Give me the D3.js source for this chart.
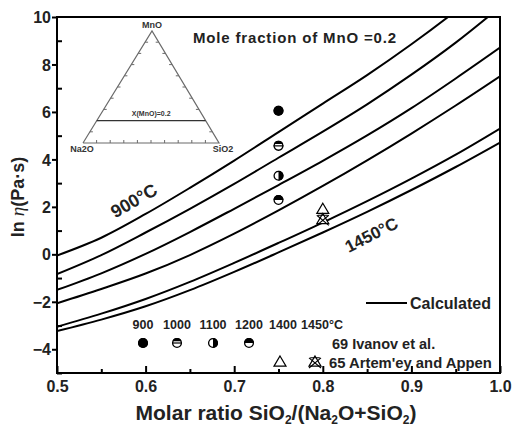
<!DOCTYPE html>
<html>
<head>
<meta charset="utf-8">
<script src="https://cdn.jsdelivr.net/npm/d3@7"></script>
<style>
  html, body { margin: 0; padding: 0; background: #fff; }
  svg { display: block; font-family: "Liberation Sans", Arial, sans-serif; }
</style>
</head>
<body>
<svg id="chart" width="513" height="433"></svg>
<script>
// Molar ratio SiO2/(Na2O+SiO2) at which the calculated curves are sampled
const ratio = [0.50, 0.55, 0.60, 0.65, 0.70, 0.75, 0.80, 0.85, 0.90, 0.95, 1.00];

// Calculated ln(viscosity) curves, one per temperature (°C)
const calcTemps = [900, 1000, 1100, 1200, 1400, 1450];
const calc900  = [-0.05, 0.70, 1.70, 2.80, 3.95, 5.15, 6.35, 7.55, 8.85, 10.25, 11.75];
const calc1000 = [-0.83, -0.03, 0.92, 1.92, 2.97, 4.07, 5.17, 6.32, 7.57, 8.92, 10.42];
const calc1100 = [-1.50, -0.80, 0.02, 0.94, 1.92, 2.92, 3.94, 5.01, 6.16, 7.41, 8.71];
const calc1200 = [-2.06, -1.46, -0.81, -0.03, 0.87, 1.85, 2.88, 3.96, 5.09, 6.27, 7.50];
const calc1400 = [-3.05, -2.50, -1.88, -1.16, -0.36, 0.48, 1.34, 2.24, 3.19, 4.20, 5.30];
const calc1450 = [-3.23, -2.75, -2.19, -1.51, -0.74, 0.08, 0.92, 1.79, 2.71, 3.68, 4.71];
const calcSeries = [calc900, calc1000, calc1100, calc1200, calc1400, calc1450];

// Measured values: Ivanov et al. (ref. 69)
const ivanovTemps = [900, 1000, 1100, 1200];
const ivanovRatio = [0.75, 0.75, 0.75, 0.75];
const ivanovLnEta = [6.05, 4.57, 3.31, 2.29];

// Measured values: Artem'ev and Appen (ref. 65)
const artemTemps = [1400, 1450];
const artemRatio = [0.80, 0.80];
const artemLnEta = [1.90, 1.47];

// Axis ticks
const xTicks = [0.5, 0.6, 0.7, 0.8, 0.9, 1.0];
const xMinor = [0.55, 0.65, 0.75, 0.85, 0.95];
const yTicks = [-4, -2, 0, 2, 4, 6, 8, 10];
const yMinor = [-5, -3, -1, 1, 3, 5, 7, 9];

const svg = d3.select("#chart");
const L = 57, R = 500, T = 17, B = 373;

const x = d3.scaleLinear().domain([0.5, 1.0]).range([L, R]);
const y = d3.scaleLinear().domain([-5, 10]).range([B, T]);

svg.append("defs").append("clipPath").attr("id", "plotClip")
  .append("rect").attr("x", L).attr("y", T).attr("width", R - L).attr("height", B - T);

// ---- ternary inset (Na2O - SiO2 - MnO) ----
const tern = { ax: 152, ay: 31, lx: 83, rx: 219, by: 143 };
const inset = svg.append("g").attr("class", "ternary");
const tri = (a, b, c) => { // a: Na2O, b: SiO2, c: MnO fractions
  const px = a * tern.lx + b * tern.rx + c * tern.ax;
  const py = (a + b) * tern.by + c * tern.ay;
  return [px, py];
};
inset.append("path")
  .attr("d", d3.line()([tri(1,0,0), tri(0,1,0), tri(0,0,1), tri(1,0,0)]))
  .attr("fill", "none").attr("stroke", "#6a6a6a").attr("stroke-width", 1.2);
const div = d3.range(1, 10).map(i => i / 10);
div.forEach(f => {
  // ticks on base (pointing up), left edge and right edge (pointing inward)
  const pb = tri(1 - f, f, 0);
  inset.append("line").attr("x1", pb[0]).attr("x2", pb[0]).attr("y1", pb[1]).attr("y2", pb[1] - 3)
    .attr("stroke", "#6a6a6a").attr("stroke-width", 1);
  const pl = tri(1 - f, 0, f);
  inset.append("line").attr("x1", pl[0]).attr("x2", pl[0] + 3).attr("y1", pl[1]).attr("y2", pl[1])
    .attr("stroke", "#6a6a6a").attr("stroke-width", 1);
  const pr = tri(0, 1 - f, f);
  inset.append("line").attr("x1", pr[0]).attr("x2", pr[0] - 3).attr("y1", pr[1]).attr("y2", pr[1])
    .attr("stroke", "#6a6a6a").attr("stroke-width", 1);
});
const isoA = tri(0.8, 0, 0.2), isoB = tri(0, 0.8, 0.2);
inset.append("line").attr("x1", isoA[0]).attr("y1", isoA[1]).attr("x2", isoB[0]).attr("y2", isoB[1])
  .attr("stroke", "#333").attr("stroke-width", 1.2);
inset.append("text").attr("x", (isoA[0] + isoB[0]) / 2).attr("y", isoA[1] - 5)
  .attr("text-anchor", "middle").attr("font-size", 7).attr("font-weight", "bold").attr("fill", "#333")
  .text("X(MnO)=0.2");
inset.append("text").attr("x", tern.ax).attr("y", tern.ay - 3).attr("text-anchor", "middle")
  .attr("font-size", 9).attr("font-weight", "bold").attr("fill", "#333").text("MnO");
inset.append("text").attr("x", tern.lx - 1).attr("y", tern.by + 9).attr("text-anchor", "middle")
  .attr("font-size", 9).attr("font-weight", "bold").attr("fill", "#333").text("Na2O");
inset.append("text").attr("x", tern.rx + 4).attr("y", tern.by + 9).attr("text-anchor", "middle")
  .attr("font-size", 9).attr("font-weight", "bold").attr("fill", "#333").text("SiO2");

// ---- calculated curves ----
const line = d3.line()
  .x((d, i) => x(ratio[i]))
  .y(d => y(d))
  .curve(d3.curveCatmullRom.alpha(0.5));
svg.append("g").attr("clip-path", "url(#plotClip)")
  .selectAll("path").data(calcSeries).join("path")
  .attr("d", d => line(d))
  .attr("fill", "none").attr("stroke", "#000").attr("stroke-width", 2);

// ---- symbols ----
const symR = 5;
function circleSymbol(g, cx, cy, kind) {
  const r = symR;
  const grp = g.append("g").attr("transform", `translate(${cx},${cy})`);
  grp.append("circle").attr("r", r).attr("fill", kind === "full" ? "#000" : "#fff");
  if (kind === "top") {
    grp.append("path").attr("d", `M${-r},0 A${r},${r} 0 0 1 ${r},0 Z`).attr("fill", "#000");
  } else if (kind === "cap") {
    const h = -r * 0.35, w = Math.sqrt(r * r - h * h);
    grp.append("path").attr("d", `M${-w},${h} A${r},${r} 0 0 1 ${w},${h} Z`).attr("fill", "#000");
    grp.append("line").attr("x1", -r).attr("x2", r).attr("y1", 0).attr("y2", 0)
      .attr("stroke", "#000").attr("stroke-width", 1.2);
  } else if (kind === "right") {
    grp.append("path").attr("d", `M0,${-r} A${r},${r} 0 0 1 0,${r} Z`).attr("fill", "#000");
  }
  grp.append("circle").attr("r", r - 0.6).attr("fill", "none").attr("stroke", "#000").attr("stroke-width", 1.3);
}
function triangleSymbol(g, cx, cy, crossed) {
  const s = 6;
  const grp = g.append("g").attr("transform", `translate(${cx},${cy})`);
  grp.append("path").attr("d", `M0,${-s} L${s},${s * 0.7} L${-s},${s * 0.7} Z`)
    .attr("fill", "#fff").attr("stroke", "#000").attr("stroke-width", 1.2);
  if (crossed) {
    grp.append("path").attr("d", `M${-s},${-s * 0.7} L${s},${s} M${s},${-s * 0.7} L${-s},${s} M${-s * 0.8},${-s * 0.7} L${s * 0.8},${-s * 0.7}`)
      .attr("fill", "none").attr("stroke", "#000").attr("stroke-width", 1.1);
  }
}
const ivanovKinds = ["full", "cap", "right", "top"];
const symG = svg.append("g");
ivanovTemps.forEach((t, i) => circleSymbol(symG, x(ivanovRatio[i]), y(ivanovLnEta[i]), ivanovKinds[i]));
artemTemps.forEach((t, i) => triangleSymbol(symG, x(artemRatio[i]), y(artemLnEta[i]), i === 1));

// ---- axes frame ----
svg.append("rect").attr("x", L).attr("y", T).attr("width", R - L).attr("height", B - T)
  .attr("fill", "none").attr("stroke", "#000").attr("stroke-width", 2);

const xAxis = svg.append("g").attr("transform", `translate(0,${B})`)
  .call(d3.axisBottom(x).tickValues(xTicks).tickSize(-7).tickFormat(d3.format(".1f")));
svg.append("g").attr("transform", `translate(0,${B})`)
  .call(d3.axisBottom(x).tickValues(xMinor).tickSize(-4).tickFormat(""));
const yAxis = svg.append("g").attr("transform", `translate(${L},0)`)
  .call(d3.axisLeft(y).tickValues(yTicks).tickSize(5).tickFormat(d3.format("d")));
svg.append("g").attr("transform", `translate(${L},0)`)
  .call(d3.axisLeft(y).tickValues(yMinor).tickSize(-5).tickFormat(""));
svg.selectAll(".domain").remove();
svg.selectAll(".tick line").attr("stroke", "#000").attr("stroke-width", 2);
xAxis.selectAll("text").attr("font-size", 16).attr("font-weight", "bold").attr("fill", "#222")
  .attr("dy", "0").attr("y", 19);
yAxis.selectAll("text").attr("font-size", 16).attr("font-weight", "bold").attr("fill", "#222")
  .attr("x", -6).attr("dy", "0.35em");

// ---- axis titles ----
const xt = svg.append("text").attr("x", 276).attr("y", 420).attr("text-anchor", "middle")
  .attr("font-size", 21).attr("font-weight", "bold").attr("fill", "#222");
xt.append("tspan").text("Molar ratio SiO");
xt.append("tspan").text("2").attr("font-size", 12).attr("dy", 4);
xt.append("tspan").text("/(Na").attr("dy", -4);
xt.append("tspan").text("2").attr("font-size", 12).attr("dy", 4);
xt.append("tspan").text("O+SiO").attr("dy", -4);
xt.append("tspan").text("2").attr("font-size", 12).attr("dy", 4);
xt.append("tspan").text(")").attr("dy", -4);

const yt = svg.append("text").attr("transform", "translate(24,197) rotate(-90)")
  .attr("text-anchor", "middle").attr("font-size", 18).attr("font-weight", "bold").attr("fill", "#222");
yt.append("tspan").text("ln ");
yt.append("tspan").text("η").attr("font-family", "Liberation Serif, serif").attr("font-style", "italic")
  .attr("font-weight", "normal").attr("font-size", 19);
yt.append("tspan").text("(Pa·s)");

// ---- annotations ----
svg.append("text").attr("x", 193).attr("y", 43).attr("font-size", 15).attr("font-weight", "bold")
  .attr("fill", "#222").attr("textLength", 203).attr("lengthAdjust", "spacing")
  .text("Mole fraction of MnO =0.2");
svg.append("text").attr("transform", "translate(137,206) rotate(-30)").attr("text-anchor", "middle")
  .attr("font-size", 18).attr("font-weight", "bold").attr("fill", "#222").text("900°C");
svg.append("text").attr("transform", "translate(374,240) rotate(-27)").attr("text-anchor", "middle")
  .attr("font-size", 17).attr("font-weight", "bold").attr("fill", "#222").text("1450°C");

// ---- legend ----
const leg = svg.append("g").attr("font-weight", "bold").attr("fill", "#222");
leg.append("line").attr("x1", 366).attr("x2", 407).attr("y1", 303).attr("y2", 303)
  .attr("stroke", "#000").attr("stroke-width", 2);
leg.append("text").attr("x", 410).attr("y", 309).attr("font-size", 16).text("Calculated");

const legendTempLabels = ["900", "1000", "1100", "1200", "1400", "1450°C"];
const legendTempX = [143, 177, 213, 249, 283, 322];
legendTempLabels.forEach((t, i) => {
  leg.append("text").attr("x", legendTempX[i]).attr("y", 329).attr("text-anchor", "middle")
    .attr("font-size", 12.5).text(t);
});
ivanovTemps.forEach((t, i) => circleSymbol(leg, legendTempX[i], 343, ivanovKinds[i]));
artemTemps.forEach((t, i) => triangleSymbol(leg, legendTempX[4 + i] - (i ? 7 : 3), 362, i === 1));
leg.append("text").attr("x", 332).attr("y", 349).attr("font-size", 14.5).text("69 Ivanov et al.");
leg.append("text").attr("x", 329).attr("y", 368).attr("font-size", 14.8).text("65 Artem'ey and Appen");
</script>
</body>
</html>
